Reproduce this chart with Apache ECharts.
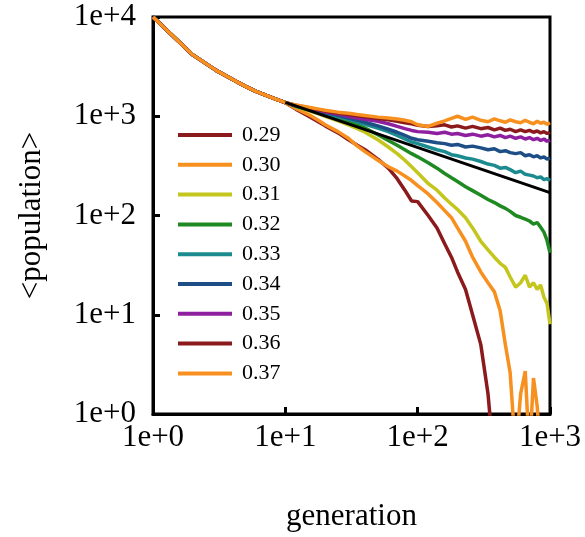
<!DOCTYPE html>
<html>
<head>
<meta charset="utf-8">
<script src="https://cdn.jsdelivr.net/npm/echarts@6/dist/echarts.min.js"></script>
<style>
html,body{margin:0;padding:0;background:#fff;}
#chart{width:585px;height:537px;}
</style>
</head>
<body>
<div id="chart"></div>
<script>
// generation values (x)
var GEN = [1,2,3,4,5,6,8,10,
  12,15,18,20,25,30,35,40,50,60,70,80,90,100,120,140,160,180,200,230,260,300,340,380,420,460,500,550,600,650,700,750,800,850,900,950,1000];
// shared early trunk (generations 1..10)
var TRUNK = [10000,4150,2900,2350,2000,1780,1530,1370];
// per-series values for generations 12..1000
var P029 = [1180,1000,870,800,680,580,510,460,370,300,235,180,140,138,100,75,52,38,27,18,10,5,1.6,0.3,null,null,null,null,null,null,null,null,null,null,null,null,null];
var P030 = [1200,1040,900,820,700,600,500,440,360,310,280,250,225,200,165,135,112,95,75,55,38,27,21,17,11,5,2.6,0.4,1.6,2.7,0.4,2.3,1.2,0.4,null,null,null];
var P031 = [1250,1140,1050,1000,900,820,750,690,580,490,420,360,310,270,210,180,150,130,115,95,75,55,45,38,33,30,24,19,21,25,19,21,18,20,15,13,8];
var P032 = [1260,1160,1080,1030,950,880,820,760,650,570,510,460,420,390,340,300,265,240,220,195,178,160,145,135,125,118,110,100,96,92,88,82,85,76,68,56,42];
var P033 = [1270,1180,1110,1070,990,930,880,830,760,700,640,590,550,530,490,460,440,410,400,380,370,350,330,320,300,305,290,270,280,260,255,250,240,245,230,235,225];
var P034 = [1280,1200,1130,1090,1020,960,910,870,800,740,690,640,600,580,560,540,530,510,520,490,500,480,460,470,440,450,430,420,430,400,410,390,400,380,390,370,380];
var P035 = [1285,1210,1150,1110,1050,1000,960,930,890,840,790,750,720,700,690,670,690,660,670,640,660,630,650,620,640,610,630,600,620,590,610,580,600,570,590,560,575];
var P036 = [1290,1220,1160,1130,1080,1040,1010,990,950,920,890,860,840,810,790,800,820,780,800,760,790,750,770,730,760,720,740,700,730,700,720,690,710,680,700,670,690];
var P037 = [1300,1230,1180,1150,1100,1070,1040,1020,980,960,940,910,880,820,790,850,900,950,1000,930,980,910,880,940,900,870,920,880,860,910,870,840,890,850,870,830,860];
// reference power-law line
var REF_X = [10, 1000];
var REF_Y = [1380, 170];

var NAMES = ['0.29','0.30','0.31','0.32','0.33','0.34','0.35','0.36','0.37'];
var VALUES = [P029,P030,P031,P032,P033,P034,P035,P036,P037];
var COLORS = ['#8b1a1c','#f7901e','#c3c61c','#1f8a22','#1c8b8f','#1d4f86','#8e1f9e','#8b1a1c','#f7901e'];
var X_TICKS = ['1e+0','1e+1','1e+2','1e+3'];
var Y_TICKS = ['1e+0','1e+1','1e+2','1e+3','1e+4'];

var FONT = '"Liberation Serif", "Times New Roman", serif';

function buildData(vals){
  var full = TRUNK.concat(vals);
  var out = [];
  for (var i=0;i<GEN.length;i++){
    if (full[i] !== null && full[i] !== undefined) out.push([GEN[i], full[i]]);
  }
  return out;
}

var series = NAMES.map(function(n,i){
  return {
    name: n, type: 'line', data: buildData(VALUES[i]),
    showSymbol: false, symbol: 'none', clip: true,
    lineStyle: {color: COLORS[i], width: 3.5},
    itemStyle: {color: COLORS[i]},
    z: 2 + i
  };
});
series.push({
  name: 'ref', type: 'line', data: REF_X.map(function(x,i){return [x, REF_Y[i]];}),
  showSymbol: false, symbol: 'none',
  lineStyle: {color: '#000', width: 3}, z: 20
});

var chart = echarts.init(document.getElementById('chart'), null, {renderer: 'canvas'});
chart.setOption({
  animation: false,
  backgroundColor: '#fff',
  grid: {left: 153, right: 35, top: 17, bottom: 122, show: true, borderColor: '#000', borderWidth: 3, backgroundColor: 'transparent'},
  legend: {
    data: NAMES, orient: 'vertical', left: 173, top: 119,
    icon: 'rect', itemWidth: 54, itemHeight: 4, itemGap: 7.8,
    textStyle: {fontFamily: FONT, fontSize: 22, color: '#000', lineHeight: 20, padding: [0,0,0,5]}
  },
  xAxis: {
    type: 'log', logBase: 10, min: 1, max: 1000, interval: 1,
    name: 'generation', nameLocation: 'middle', nameGap: 87,
    nameTextStyle: {fontFamily: FONT, fontSize: 31, color: '#000'},
    axisLine: {show: true, lineStyle: {color: '#000', width: 3}},
    axisTick: {show: true, inside: true, length: 7, lineStyle: {color: '#000', width: 3}},
    splitLine: {show: false},
    minorTick: {show: false},
    axisLabel: {
      fontFamily: FONT, fontSize: 31, color: '#000', margin: 8,
      formatter: function(v){ return X_TICKS[Math.round(Math.log10(v))]; }
    }
  },
  yAxis: {
    type: 'log', logBase: 10, min: 1, max: 10000, interval: 1,
    name: '<population>', nameLocation: 'middle', nameGap: 106, nameRotate: 90,
    nameTextStyle: {fontFamily: FONT, fontSize: 31, color: '#000'},
    axisLine: {show: true, lineStyle: {color: '#000', width: 3}},
    axisTick: {show: true, inside: true, length: 7, lineStyle: {color: '#000', width: 3}},
    splitLine: {show: false},
    axisLabel: {
      fontFamily: FONT, fontSize: 31, color: '#000', margin: 17,
      formatter: function(v){ return Y_TICKS[Math.round(Math.log10(v))]; }
    }
  },
  series: series
});
</script>
</body>
</html>
